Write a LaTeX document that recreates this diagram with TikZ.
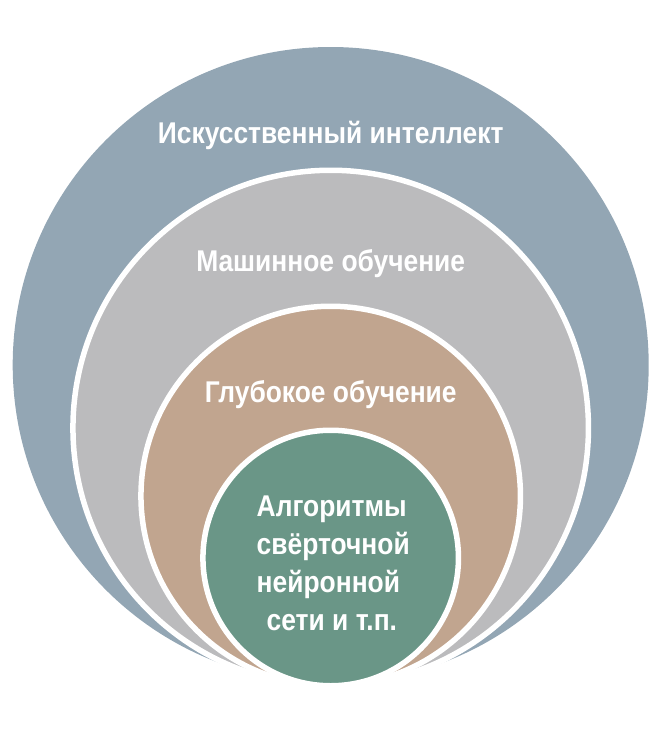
\documentclass[tikz,border=0pt]{standalone}
\usepackage{fontspec}
\newfontfamily\labelfont{Liberation Sans}[FakeStretch=0.88]
\usepackage{tikz}
\usetikzlibrary{positioning,shapes}
\definecolor{aicol}{RGB}{147,166,180}
\definecolor{mlcol}{RGB}{187,187,189}
\definecolor{dlcol}{RGB}{193,165,143}
\definecolor{cnncol}{RGB}{106,150,135}

\begin{document}
\begin{tikzpicture}[x=1pt,y=-1pt]

  \useasboundingbox (0,0) rectangle (663,742);
  \tikzstyle{every node}=[inner sep=0pt,outer sep=0pt]
  \tikzstyle{ring}=[circle,draw=white,line width=5.5pt]
  \tikzstyle{lbl}=[text=white,font=\labelfont\bfseries\fontsize{30}{38}\selectfont]

  \node[circle,fill=aicol,minimum size=636pt] (ai) at (330.7,365) {};
  \node[ring,fill=mlcol,minimum size=515.5pt] (ml) at (330.7,428) {};
  \node[ring,fill=dlcol,minimum size=379.5pt] (dl) at (330.7,496) {};
  \node[ring,fill=cnncol,minimum size=255.5pt] (cnn) at (330.7,558) {};

  \node[lbl,anchor=base] (ailbl) at (330.7,143.3) {Искусственный интеллект};
  \node[lbl,anchor=base] (mllbl) at (330.7,271.5) {Машинное обучение};
  \node[lbl,anchor=base] (dllbl) at (330.7,402.5) {Глубокое обучение};
  \node[lbl,anchor=west,align=left] (cnnlbl) at (256.7,563.3)
    {Алгоритмы \\ свёрточной \\ нейронной \\ \hspace*{10pt}сети и т.п.};

\end{tikzpicture}
\end{document}
